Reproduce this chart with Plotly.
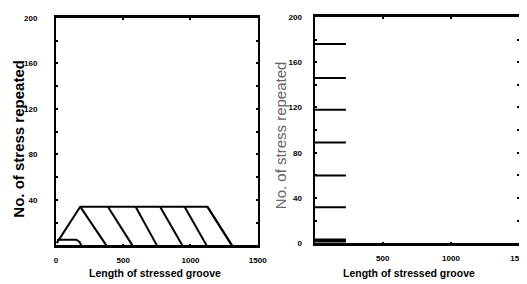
import plotly.graph_objects as go

# ---- data ----
x_tick_vals_left = [0, 500, 1000, 1500]
x_tick_vals_right = [500, 1000, 1500]
y_tick_vals_left = [40, 80, 120, 160, 200]
y_tick_vals_right = [0, 40, 80, 120, 160, 200]

# left panel: trapezoid outline
outline_x = [5, 180, 1126, 1308]
outline_y = [2, 34, 34, 0]
# hatch lines (top x at y=34, bottom x at y=0)
hatch_top_x = [180, 386, 592, 774, 956, 1126]
hatch_bottom_x = [374, 568, 750, 939, 1119, 1308]
hatch_top_y = 34
# small bottom-left shape
small_x = [8, 150, 175, 188]
small_y = [5, 5, 3, 0]

# right panel: horizontal levels
right_levels = [32, 60, 89, 118, 146, 176]
right_line_end = 230
right_base_y = 2.5

x_title = "Length of stressed groove"
y_title = "No. of stress repeated"

W, H = 527, 284
fig = go.Figure()

lw = 2
col = "black"

fig.add_trace(go.Scatter(x=outline_x, y=outline_y, mode="lines",
                         line=dict(color=col, width=lw), xaxis="x", yaxis="y"))
hx, hy = [], []
for t, b in zip(hatch_top_x, hatch_bottom_x):
    hx += [t, b, None]
    hy += [hatch_top_y, 0, None]
fig.add_trace(go.Scatter(x=hx, y=hy, mode="lines",
                         line=dict(color=col, width=lw), xaxis="x", yaxis="y"))
fig.add_trace(go.Scatter(x=small_x, y=small_y, mode="lines",
                         line=dict(color=col, width=lw), xaxis="x", yaxis="y"))

rx, ry = [], []
for lv in right_levels:
    rx += [0, right_line_end, None]
    ry += [lv, lv, None]
fig.add_trace(go.Scatter(x=rx, y=ry, mode="lines",
                         line=dict(color=col, width=lw), xaxis="x2", yaxis="y2"))
fig.add_trace(go.Scatter(x=[0, right_line_end], y=[right_base_y, right_base_y], mode="lines",
                         line=dict(color=col, width=4), xaxis="x2", yaxis="y2"))

FAM = "Liberation Sans, Arial, sans-serif"
tick_font = dict(family=FAM, size=8, color="black", weight="bold")


def xax(domain, tickvals, anchor):
    return dict(domain=domain, range=[0, 1500], tickvals=tickvals,
                ticks="inside", ticklen=2, tickwidth=2, tickcolor="black",
                showline=True, linewidth=2.5, linecolor="black", mirror="ticks",
                showgrid=False, zeroline=False, tickfont=tick_font,
                ticklabelstandoff=5, anchor=anchor)


def yax(domain, anchor, standoff, tickvals):
    return dict(domain=domain, range=[0, 200], tickvals=tickvals,
                ticks="inside", ticklen=2, tickwidth=2, tickcolor="black",
                minor=dict(dtick=20, ticks="inside", ticklen=2, tickwidth=2, tickcolor="black"),
                showline=True, linewidth=2, linecolor="black", mirror="ticks",
                showgrid=False, zeroline=False, tickfont=tick_font,
                ticklabelstandoff=standoff, anchor=anchor)


def px(x):
    return x / W


def py(y):
    return (H - y) / H


common = dict(xref="paper", yref="paper", showarrow=False, xanchor="center", yanchor="middle")
annotations = [
    dict(text=x_title, x=px(148), y=py(270),
         font=dict(family=FAM, size=10.5, color="black", weight="bold"), **common),
    dict(text=x_title, x=px(408), y=py(270),
         font=dict(family=FAM, size=10.5, color="black", weight="bold"), **common),
    dict(text=y_title, x=px(9), y=py(131), textangle=-90,
         font=dict(family=FAM, size=15, color="black", weight="bold"), **common),
    dict(text=y_title, x=px(277), y=py(127), textangle=-90,
         font=dict(family=FAM, size=15, color="#666", weight="normal"), **common),
]

fig.update_layout(
    width=W, height=H,
    margin=dict(l=0, r=0, t=0, b=0),
    paper_bgcolor="white", plot_bgcolor="white",
    showlegend=False,
    xaxis=xax([px(47), px(253)], x_tick_vals_left, "y"),
    yaxis=yax([py(241), py(6)], "x", 15, y_tick_vals_left),
    xaxis2=xax([px(311), px(520)], x_tick_vals_right, "y2"),
    yaxis2=yax([py(239), py(5)], "x2", 9, y_tick_vals_right),
    annotations=annotations,
)

fig.write_html("out.html")
